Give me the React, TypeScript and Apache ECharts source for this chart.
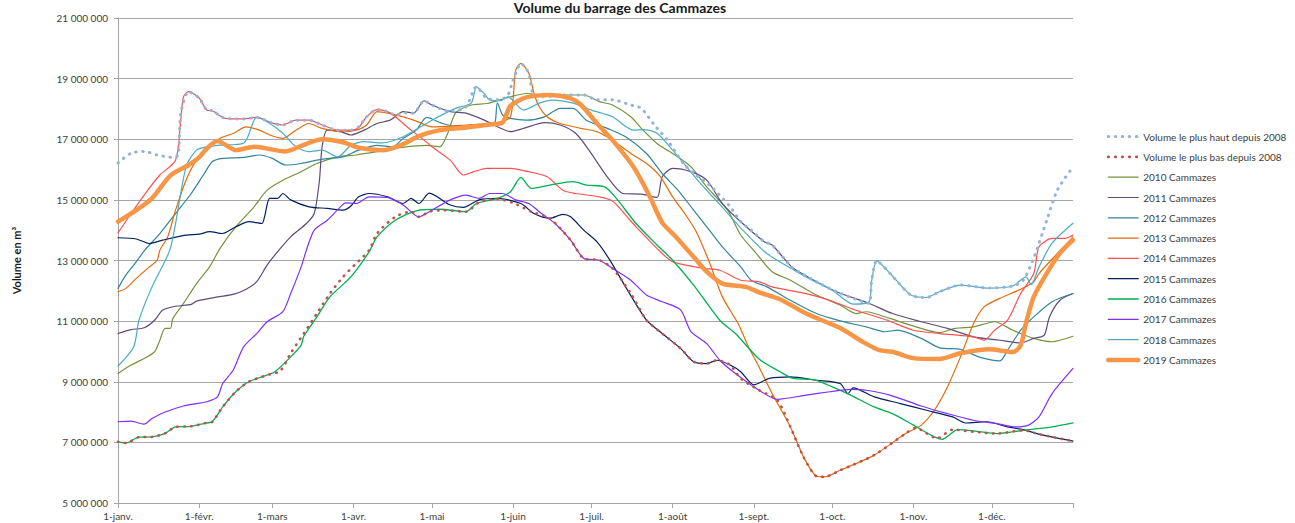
import React, { useEffect, useRef } from "react";
import * as echarts from "echarts";

// ---- Data (day of year, volume in millions of m³) ----
const monthStarts = [0, 31, 59, 90, 120, 151, 181, 212, 243, 273, 304, 334];
const monthLabels = ["1-janv.", "1-févr.", "1-mars", "1-avr.", "1-mai", "1-juin", "1-juil.", "1-août", "1-sept.", "1-oct.", "1-nov.", "1-déc."];
const yearEnd = 365;

const volMax: [number, number][] = [[0,16.22],[5,16.54],[10,16.6],[15,16.48],[21,16.4],[23,16.48],[24,17.85],[27,18.57],[31,18.36],[34,17.96],[36,17.94],[41,17.69],[48,17.67],[53,17.72],[59,17.53],[63,17.47],[68,17.63],[73,17.63],[78,17.47],[84,17.3],[89,17.3],[92,17.41],[95,17.74],[99,17.98],[103,17.91],[106,17.8],[110,17.87],[113,17.86],[117,18.27],[120,18.13],[127,17.91],[133,18.07],[137,18.73],[141,18.35],[146,18.3],[149,18.46],[151,18.95],[154,19.5],[157,19.18],[159,18.46],[165,18.42],[171,18.46],[178,18.46],[183,18.3],[189,18.3],[196,18.13],[200,18.02],[205,17.47],[210,16.97],[216,16.21],[220,15.88],[226,15.49],[234,14.77],[238,14.28],[242,14.0],[247,13.62],[250,13.51],[254,13.12],[258,12.75],[268,12.25],[276,11.92],[287,11.59],[288,12.3],[290,12.99],[295,12.58],[303,11.86],[309,11.78],[314,11.97],[322,12.19],[333,12.09],[342,12.16],[346,12.35],[350,13.08],[355,14.33],[359,15.32],[365,16.09]];

const volMin: [number, number][] = [[0,7.02],[3,6.98],[8,7.17],[13,7.18],[18,7.3],[22,7.51],[28,7.53],[33,7.63],[36,7.68],[40,8.17],[45,8.67],[50,9.0],[57,9.22],[62,9.36],[66,9.94],[71,10.59],[76,11.25],[81,11.91],[86,12.46],[91,12.9],[96,13.34],[99,13.89],[106,14.44],[112,14.61],[115,14.44],[119,14.61],[124,14.66],[133,14.61],[138,14.92],[145,15.03],[151,14.9],[158,14.61],[165,14.39],[173,13.67],[178,13.07],[184,13.01],[189,12.74],[196,11.91],[202,11.03],[208,10.59],[215,10.1],[220,9.66],[225,9.6],[229,9.71],[234,9.55],[238,9.11],[245,8.72],[252,8.39],[257,7.51],[262,6.52],[267,5.88],[270,5.86],[276,6.08],[289,6.58],[301,7.29],[305,7.48],[309,7.3],[313,7.13],[319,7.42],[327,7.35],[336,7.29],[346,7.4],[352,7.27],[365,7.04]];

const y2010: [number, number][] = [[0,9.27],[5,9.55],[10,9.77],[14,9.99],[16,10.37],[18,10.76],[20,10.76],[21,11.09],[25,11.58],[30,12.24],[35,12.79],[39,13.4],[45,14.11],[52,14.77],[57,15.32],[63,15.65],[70,15.93],[76,16.2],[84,16.42],[91,16.48],[99,16.59],[106,16.7],[114,16.78],[118,16.8],[123,16.75],[126,17.19],[129,17.86],[135,18.13],[141,18.18],[150,18.4],[156,18.51],[165,18.42],[171,18.46],[178,18.46],[184,18.24],[189,18.13],[196,17.74],[200,17.36],[206,16.86],[212,16.53],[219,16.09],[225,15.43],[233,14.66],[238,13.84],[244,13.23],[250,12.63],[257,12.35],[267,11.86],[276,11.53],[282,11.25],[286,11.31],[295,11.09],[305,10.81],[314,10.62],[320,10.76],[327,10.81],[335,10.98],[342,10.7],[350,10.43],[357,10.32],[365,10.5]];

const y2011: [number, number][] = [[0,10.59],[5,10.72],[10,10.78],[14,11.03],[17,11.36],[22,11.49],[28,11.55],[30,11.66],[38,11.8],[44,11.88],[49,12.05],[53,12.3],[57,12.85],[61,13.29],[66,13.78],[72,14.22],[75,14.55],[77,15.65],[78,16.75],[80,17.3],[85,17.25],[89,17.14],[94,17.3],[99,17.52],[104,17.63],[109,17.91],[113,17.86],[117,18.27],[120,18.13],[127,17.91],[133,17.86],[140,17.63],[145,17.41],[150,17.25],[155,17.36],[163,17.55],[169,17.47],[175,17.19],[180,16.64],[187,15.76],[193,15.21],[200,15.19],[206,15.08],[208,15.76],[212,16.04],[219,15.93],[225,15.65],[231,14.88],[238,14.28],[247,13.62],[250,13.51],[254,13.12],[258,12.75],[268,12.25],[276,11.92],[287,11.59],[296,11.25],[307,10.98],[317,10.76],[327,10.48],[337,10.37],[345,10.28],[350,10.43],[354,10.54],[356,11.14],[360,11.69],[365,11.91]];

const y2012: [number, number][] = [[0,12.08],[3,12.52],[7,12.96],[10,13.32],[16,13.89],[22,14.55],[28,15.21],[33,15.87],[36,16.26],[40,16.37],[48,16.4],[54,16.48],[59,16.37],[64,16.15],[70,16.2],[76,16.31],[81,16.37],[86,16.42],[92,16.64],[99,16.8],[105,16.75],[109,17.03],[114,17.3],[118,17.72],[124,17.52],[133,17.36],[142,17.47],[144,17.5],[145,18.2],[147,17.8],[150,17.69],[156,17.63],[163,17.74],[169,18.02],[174,18.02],[179,17.63],[187,17.36],[194,17.08],[202,16.53],[208,15.87],[214,15.32],[220,14.66],[226,14.0],[231,13.45],[238,12.79],[242,12.35],[248,12.13],[257,11.69],[267,11.25],[276,11.01],[286,10.81],[293,10.65],[298,10.7],[307,10.43],[314,10.12],[322,10.07],[329,9.82],[337,9.69],[340,10.04],[345,10.7],[350,11.14],[357,11.64],[365,11.91]];

const y2013: [number, number][] = [[0,11.97],[3,12.08],[7,12.41],[12,12.79],[15,13.01],[16,13.34],[19,13.78],[22,14.66],[26,15.65],[30,16.31],[34,16.64],[39,17.03],[44,17.19],[49,17.41],[54,17.3],[58,17.14],[63,17.03],[68,17.3],[73,17.52],[78,17.36],[86,17.25],[91,17.3],[95,17.47],[99,17.91],[103,17.86],[109,17.74],[114,17.6],[120,17.41],[133,17.47],[145,17.55],[150,17.74],[152,19.28],[154,19.5],[157,19.18],[159,18.51],[161,18.07],[164,17.74],[169,17.52],[177,17.36],[183,17.25],[189,16.97],[196,16.53],[202,16.2],[207,15.8],[212,15.1],[217,14.5],[221,13.95],[226,12.95],[231,11.8],[237,10.92],[241,10.15],[245,9.49],[250,8.61],[257,7.51],[262,6.52],[267,5.88],[270,5.86],[276,6.08],[289,6.58],[301,7.29],[307,7.57],[312,8.06],[317,8.83],[322,9.82],[327,10.92],[331,11.47],[337,11.75],[345,12.05],[350,12.3],[352,12.57],[359,13.23],[365,13.78]];

const y2014: [number, number][] = [[0,13.91],[5,14.55],[10,15.16],[16,15.82],[22,16.31],[24,17.63],[25,18.4],[27,18.57],[31,18.36],[34,17.96],[36,17.94],[41,17.69],[48,17.67],[53,17.72],[59,17.53],[63,17.47],[68,17.63],[73,17.63],[78,17.47],[84,17.3],[89,17.3],[92,17.39],[95,17.74],[99,17.98],[103,17.91],[106,17.74],[112,17.3],[117,16.97],[120,16.75],[127,16.31],[132,15.82],[136,15.93],[141,16.04],[150,16.04],[157,15.93],[164,15.76],[170,15.32],[175,15.21],[184,15.1],[189,14.96],[194,14.5],[198,14.11],[208,13.23],[212,12.96],[217,12.85],[224,12.74],[230,12.68],[238,12.35],[245,12.3],[250,12.13],[263,11.91],[272,11.69],[282,11.36],[294,11.03],[304,10.7],[314,10.59],[327,10.48],[331,10.37],[335,10.7],[340,11.03],[345,11.91],[350,12.57],[352,13.45],[357,13.73],[362,13.73],[365,13.84]];

const y2015: [number, number][] = [[0,13.75],[7,13.71],[12,13.56],[17,13.67],[26,13.84],[31,13.87],[35,13.95],[40,13.89],[45,14.11],[50,14.28],[55,14.22],[56,14.44],[58,15.05],[61,15.05],[63,15.21],[66,15.0],[73,14.77],[80,14.72],[86,14.66],[89,14.8],[92,15.1],[96,15.21],[103,15.1],[109,14.88],[112,15.05],[115,14.88],[119,15.22],[127,14.83],[132,14.75],[138,15.0],[145,15.05],[154,14.88],[159,14.55],[165,14.39],[170,14.52],[173,14.44],[178,14.0],[183,13.62],[188,13.01],[194,12.13],[202,11.03],[208,10.59],[215,10.1],[220,9.66],[225,9.6],[229,9.71],[234,9.55],[238,9.33],[243,8.9],[249,9.11],[257,9.16],[267,9.05],[276,8.94],[279,8.61],[281,8.8],[289,8.5],[299,8.28],[309,8.06],[319,7.84],[324,7.64],[332,7.68],[340,7.51],[346,7.42],[352,7.27],[365,7.04]];

const y2016: [number, number][] = [[0,7.02],[3,6.98],[8,7.17],[13,7.18],[18,7.3],[22,7.51],[28,7.53],[33,7.63],[36,7.68],[40,8.17],[45,8.67],[50,9.0],[57,9.22],[60,9.33],[66,9.82],[70,10.21],[71,10.5],[76,11.14],[81,11.8],[89,12.46],[96,13.29],[99,13.78],[106,14.33],[114,14.64],[123,14.69],[133,14.61],[137,14.88],[145,15.05],[150,15.27],[154,15.74],[158,15.38],[165,15.49],[174,15.6],[179,15.49],[186,15.43],[190,15.1],[198,14.22],[206,13.51],[212,13.01],[220,12.19],[230,11.03],[236,10.59],[245,9.75],[253,9.33],[258,9.11],[266,9.07],[273,8.83],[280,8.56],[289,8.17],[296,7.95],[304,7.57],[312,7.18],[315,7.1],[321,7.42],[327,7.38],[336,7.29],[346,7.4],[357,7.51],[365,7.64]];

const y2017: [number, number][] = [[0,7.68],[5,7.7],[10,7.6],[13,7.79],[18,8.0],[25,8.2],[30,8.28],[34,8.34],[38,8.5],[40,8.94],[44,9.38],[48,10.15],[53,10.59],[57,10.98],[63,11.31],[66,11.91],[70,12.79],[72,13.34],[75,14.0],[80,14.33],[85,14.77],[87,14.9],[91,14.88],[96,15.1],[103,15.08],[109,14.83],[115,14.44],[119,14.61],[127,15.0],[133,15.16],[138,15.05],[142,15.21],[147,15.21],[152,15.0],[157,14.88],[161,14.61],[167,14.22],[173,13.67],[178,13.07],[184,13.01],[189,12.74],[196,12.35],[202,11.86],[208,11.64],[215,11.37],[219,10.65],[225,10.26],[230,9.71],[236,9.27],[245,8.72],[252,8.42],[263,8.56],[272,8.67],[280,8.75],[286,8.72],[295,8.56],[307,8.2],[317,7.95],[327,7.73],[336,7.62],[343,7.51],[348,7.57],[352,7.84],[357,8.61],[365,9.44]];

const y2018: [number, number][] = [[0,9.52],[6,10.15],[8,11.03],[13,12.13],[20,13.4],[26,16.09],[30,16.64],[34,16.75],[38,16.8],[48,16.87],[52,17.63],[53,17.72],[57,17.58],[63,17.2],[68,16.75],[73,16.59],[78,16.64],[84,16.42],[89,16.8],[94,16.92],[101,16.88],[109,17.08],[120,17.63],[129,18.02],[135,18.19],[137,18.73],[140,18.5],[142,18.3],[146,18.27],[149,18.4],[155,17.96],[161,18.19],[166,18.29],[174,18.19],[181,17.96],[189,17.74],[197,17.3],[201,17.32],[206,17.2],[212,16.64],[222,15.6],[230,14.85],[238,14.07],[248,13.23],[263,12.46],[273,12.02],[281,11.56],[287,11.63],[288,12.3],[290,12.99],[295,12.58],[303,11.86],[309,11.78],[314,11.97],[322,12.19],[333,12.09],[342,12.16],[347,12.46],[349,12.2],[352,12.79],[357,13.57],[365,14.23]];

const y2019: [number, number][] = [[0,14.28],[7,14.66],[13,15.05],[20,15.8],[27,16.15],[31,16.4],[34,16.7],[38,16.94],[45,16.64],[52,16.75],[64,16.6],[72,16.85],[78,17.0],[86,16.9],[92,16.72],[101,16.64],[108,16.8],[115,17.1],[123,17.3],[133,17.39],[144,17.5],[147,17.55],[150,18.1],[156,18.38],[165,18.46],[173,18.35],[177,18.13],[183,17.53],[189,16.97],[197,16.09],[203,15.15],[208,14.25],[213,13.8],[220,13.12],[225,12.63],[231,12.24],[240,12.13],[245,11.95],[253,11.72],[263,11.25],[276,10.77],[285,10.3],[291,10.04],[296,9.99],[304,9.78],[314,9.75],[322,9.94],[333,10.07],[342,9.98],[345,10.2],[347,10.93],[350,11.8],[355,12.58],[360,13.24],[365,13.67]];

// ---- Styles ----
const FONT = "Lato, 'Liberation Sans', Arial, sans-serif";
const TEXT = "#404040";
const GRID = "#A6A6A6";

type Def = { name: string; data: [number, number][]; color: string; width: number; dotted?: boolean; z: number };
const defs: Def[] = [
  { name: "Volume le plus haut depuis 2008", data: volMax, color: "#95B3D7", width: 3, dotted: true, z: 3 },
  { name: "Volume le plus bas depuis 2008", data: volMin, color: "#C0504D", width: 2.6, dotted: true, z: 3 },
  { name: "2010 Cammazes", data: y2010, color: "#77933C", width: 1.2, z: 2 },
  { name: "2011 Cammazes", data: y2011, color: "#604A7B", width: 1.2, z: 2 },
  { name: "2012 Cammazes", data: y2012, color: "#31859C", width: 1.2, z: 2 },
  { name: "2013 Cammazes", data: y2013, color: "#E46C0A", width: 1.2, z: 2 },
  { name: "2014 Cammazes", data: y2014, color: "#FF5050", width: 1.2, z: 2 },
  { name: "2015 Cammazes", data: y2015, color: "#002060", width: 1.2, z: 2 },
  { name: "2016 Cammazes", data: y2016, color: "#00B050", width: 1.3, z: 2 },
  { name: "2017 Cammazes", data: y2017, color: "#7F2FFF", width: 1.2, z: 2 },
  { name: "2018 Cammazes", data: y2018, color: "#4BACC6", width: 1.2, z: 2 },
  { name: "2019 Cammazes", data: y2019, color: "#F79646", width: 4.5, z: 4 },
];

const fmtSpace = (v: number) => String(Math.round(v)).replace(/\B(?=(\d{3})+(?!\d))/g, " ");

export default function App() {
  const ref = useRef<HTMLDivElement>(null);
  useEffect(() => {
    if (!ref.current) return;
    const chart = echarts.init(ref.current, undefined, { renderer: "svg" });
    chart.setOption({
      animation: false,
      backgroundColor: "#ffffff",
      textStyle: { fontFamily: FONT },
      title: {
        text: "Volume du barrage des Cammazes",
        left: 620,
        textAlign: "center",
        top: 0,
        padding: 0,
        textStyle: { fontFamily: FONT, fontSize: 14, fontWeight: "bold", color: "#1a1a1a" },
      },
      grid: { left: 118, right: 222, top: 18, bottom: 20, containLabel: false, outerBoundsMode: "none" },
      legend: {
        orient: "vertical",
        left: 1106,
        top: 131,
        padding: 0,
        itemWidth: 30,
        itemHeight: 14,
        itemGap: 9.1,
        data: defs.map((d) => ({
          name: d.name,
          lineStyle: d.dotted
            ? { width: d.width, type: [0.5, 6.5], cap: "round", color: d.color }
            : { width: d.width, color: d.color },
        })),
        itemStyle: { opacity: 0, borderWidth: 0 },
        textStyle: { fontFamily: FONT, fontSize: 10, color: TEXT },
      },
      xAxis: {
        type: "value",
        min: 0,
        max: yearEnd,
        axisLine: { show: true, lineStyle: { color: GRID } },
        axisTick: { show: true, length: 5, lineStyle: { color: GRID }, customValues: [...monthStarts, yearEnd] },
        axisLabel: {
          customValues: monthStarts,
          formatter: (v: number) => monthLabels[monthStarts.indexOf(Math.round(v))] ?? "",
          color: TEXT,
          fontFamily: FONT,
          fontSize: 10,
          margin: 8,
        },
        splitLine: { show: false },
      },
      yAxis: {
        type: "value",
        min: 5000000,
        max: 21000000,
        interval: 2000000,
        name: "Volume en m³",
        nameLocation: "middle",
        nameGap: 96,
        nameTextStyle: { fontFamily: FONT, fontSize: 11, fontWeight: "bold", color: "#1a1a1a" },
        axisLine: { show: true, lineStyle: { color: GRID } },
        axisTick: { show: true, length: 4, lineStyle: { color: GRID } },
        axisLabel: { formatter: fmtSpace, color: TEXT, fontFamily: FONT, fontSize: 10, margin: 10 },
        splitLine: { show: true, lineStyle: { color: GRID, width: 1 } },
      },
      series: defs.map((d) => ({
        name: d.name,
        type: "line",
        data: d.data.map(([day, v]) => [day, v * 1e6]),
        symbol: "none",
        showSymbol: false,
        smooth: 0.25,
        z: d.z,
        color: d.color,
        lineStyle: d.dotted
          ? { color: d.color, width: d.width, type: [0.5, 6.5], cap: "round" }
          : { color: d.color, width: d.width, cap: "round", join: "round" },
        emphasis: { disabled: true },
      })),
    });
    return () => chart.dispose();
  }, []);
  return <div ref={ref} style={{ position: "fixed", left: 0, top: 0, width: 1295, height: 523 }} />;
}
